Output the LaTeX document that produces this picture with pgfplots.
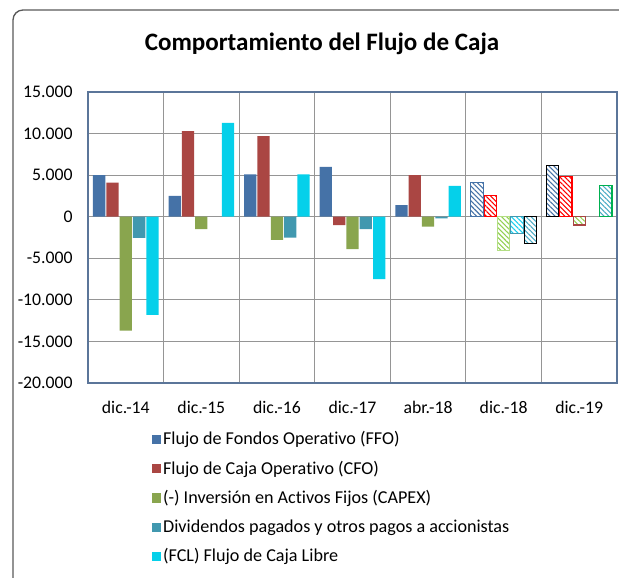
\documentclass[border=0pt]{standalone}
\usepackage{pgfplots}
\pgfplotsset{compat=1.18}
\usepackage{fontspec}
\setmainfont{Carlito}[Ligatures=NoCommon]
\usetikzlibrary{patterns.meta}

\definecolor{ffo}{HTML}{4572A7}
\definecolor{cfo}{HTML}{AA4643}
\definecolor{capex}{HTML}{89A54E}
\definecolor{divc}{HTML}{4198AF}
\definecolor{fcl}{HTML}{05D0EA}
\definecolor{axisblue}{HTML}{5B7599}
\definecolor{gridc}{HTML}{959595}
\definecolor{hred}{HTML}{FF0000}
\definecolor{hgreen}{HTML}{92D050}
\definecolor{hcyan}{HTML}{1AD0F0}
\definecolor{hteal}{HTML}{4BACC6}
\definecolor{hdgreen}{HTML}{00B050}

\tikzset{
  hatch/.style={preaction={fill=white},
    pattern={Lines[angle=-45,distance=2.6pt,line width=0.8pt]}, pattern color=#1},
}

\begin{document}
\begin{tikzpicture}
\useasboundingbox (0,0) rectangle (464.25pt,-433.5pt);
\begin{scope}
  \clip (0,0) rectangle (464.25pt,-433.5pt);
  \draw[gray!70!black, line width=1pt, rounded corners=7.5pt]
    (9.75pt,-460pt) -- (9.75pt,-7.5pt) -- (480pt,-7.5pt);
\end{scope}
\node[font=\fontsize{18.8}{21}\selectfont\bfseries] at (241.5pt,-32.5pt) {Comportamiento del Flujo de Caja};

\begin{axis}[
  at={(66pt,-69pt)}, anchor=north west,
  scale only axis, width=396.75pt, height=218.25pt,
  ybar, bar width=9.2pt,
  xmin=-0.5, xmax=6.5, ymin=-20000, ymax=15000,
  xtick={0,...,6},
  xticklabels={dic.-14,dic.-15,dic.-16,dic.-17,abr.-18,dic.-18,dic.-19},
  minor xtick={-0.5,0.5,...,6.5},
  ytick={-20000,-15000,...,15000},
  scaled y ticks=false,
  yticklabel style={/pgf/number format/fixed, /pgf/number format/1000 sep={.}, xshift=-8pt},
  xticklabel style={yshift=-10pt},
  /pgf/number format/assume math mode=true,
  tick label style={font=\fontsize{13.3}{15}\selectfont},
  major tick length=0pt, minor tick length=0pt,
  ymajorgrids, xminorgrids,
  major grid style={gridc, line width=0.8pt},
  minor grid style={gridc, line width=0.8pt},
  axis line style={draw=axisblue, line width=1pt},
  legend image code/.code={\fill[#1] (0pt,-3.4pt) rectangle (6.8pt,3.4pt);},
  legend style={at={(0.113,-0.15)}, anchor=north west, draw=none, fill=none,
    font=\fontsize{13.6}{15}\selectfont, row sep=7.6pt,
    nodes={inner sep=1.5pt}},
  legend cell align=left,
]
% historical values
\addplot[fill=ffo, draw=none, bar shift=-20pt] coordinates {(0,5000) (1,2500) (2,5100) (3,6000) (4,1400)};
\addplot[fill=cfo, draw=none, bar shift=-10pt] coordinates {(0,4100) (1,10300) (2,9700) (3,-1000) (4,5000)};
\addplot[fill=capex, draw=none, bar shift=0pt] coordinates {(0,-13700) (1,-1500) (2,-2800) (3,-3900) (4,-1200)};
\addplot[fill=divc, draw=none, bar shift=10pt] coordinates {(0,-2550) (2,-2500) (3,-1500) (4,-200)};
\addplot[fill=fcl, draw=none, bar shift=20pt] coordinates {(0,-11800) (1,11300) (2,5100) (3,-7500) (4,3700)};
\legend{Flujo de Fondos Operativo (FFO), Flujo de Caja Operativo (CFO), (-) Inversión en Activos Fijos (CAPEX), Dividendos pagados y otros pagos a accionistas, (FCL) Flujo de Caja Libre}
% projections (hatched)
\addplot[forget plot, hatch=ffo, draw=ffo, line width=0.8pt, bar shift=-20pt] coordinates {(5,4100)};
\addplot[forget plot, hatch=ffo, draw=black, line width=0.8pt, bar shift=-20pt] coordinates {(6,6200)};
\addplot[forget plot, hatch=hred, draw=hred, line width=0.8pt, bar shift=-10pt] coordinates {(5,2600) (6,4800)};
\addplot[forget plot, hatch=hgreen, draw=hgreen!70, line width=0.8pt, bar shift=0pt] coordinates {(5,-4100)};
\addplot[forget plot, hatch=hgreen, draw=cfo, line width=0.8pt, bar shift=0pt] coordinates {(6,-1000)};
\addplot[forget plot, hatch=hcyan, draw=divc, line width=0.8pt, bar shift=10pt] coordinates {(5,-2000)};
\addplot[forget plot, hatch=hteal, draw=black, line width=0.8pt, bar shift=20pt] coordinates {(5,-3200)};
\addplot[forget plot, hatch=hteal, draw=hdgreen, line width=0.8pt, bar shift=20pt] coordinates {(6,3700)};
\end{axis}
\end{tikzpicture}
\end{document}
